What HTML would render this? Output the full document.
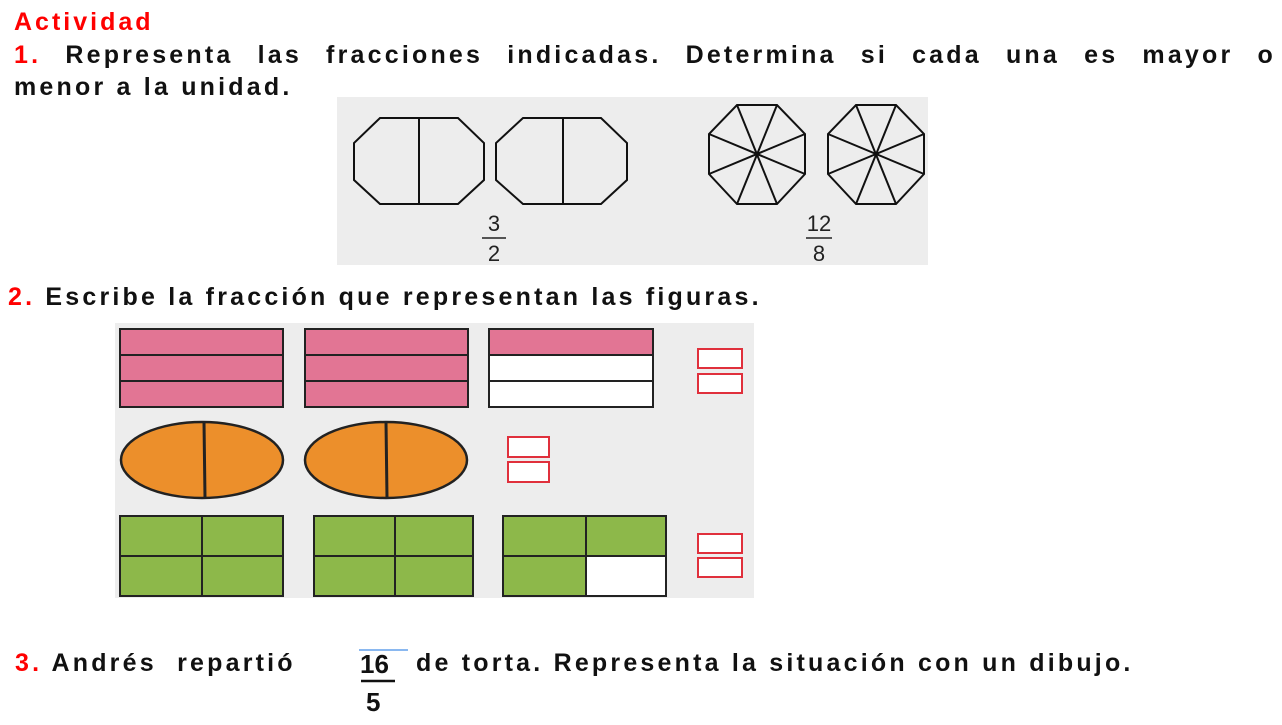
<!DOCTYPE html>
<html><head><meta charset="utf-8"><style>
body{margin:0;width:1282px;height:725px;background:#fff;position:relative;overflow:hidden;font-family:"Liberation Sans",sans-serif;font-weight:bold;color:#111}
.t{position:absolute;white-space:nowrap;font-size:25px;letter-spacing:3.2px}
.r{color:#ff0000}
</style></head><body>
<div class="t r" style="left:14px;top:8px;font-size:25px;letter-spacing:3px">Actividad</div>
<div class="t" style="left:14px;top:41px;width:1262px;text-align:justify;text-align-last:justify"><span class="r">1.</span> Representa las fracciones indicadas. Determina si cada una es mayor o</div>
<div class="t" style="left:14px;top:73px">menor a la unidad.</div>
<div class="t" style="left:8px;top:283px"><span class="r">2.</span> Escribe la fracción que representan las figuras.</div>
<div class="t" style="left:15px;top:649px"><span class="r">3.</span> Andrés&nbsp; repartió</div>
<div class="t" style="left:416px;top:649px">de torta. Representa la situación con un dibujo.</div>
<svg width="1282" height="725" style="position:absolute;left:0;top:0" xmlns="http://www.w3.org/2000/svg">
<rect x="337" y="97" width="591" height="168" fill="#ededed"/>
<g fill="none" stroke="#111" stroke-width="2">
<polygon points="380,118 458,118 484,143 484,180 458,204 380,204 354,180 354,143"/><line x1="419" y1="118" x2="419" y2="204"/>
<polygon points="523,118 601,118 627,143 627,180 601,204 523,204 496,180 496,143"/><line x1="563" y1="118" x2="563" y2="204"/>
<g id="o"><polygon points="737,105 777,105 805,134 805,174 777,204 737,204 709,174 709,134"/>
<line x1="737" y1="105" x2="777" y2="204"/><line x1="777" y1="105" x2="737" y2="204"/><line x1="709" y1="134" x2="805" y2="174"/><line x1="805" y1="134" x2="709" y2="174"/></g>
<use href="#o" x="119"/>
</g>
<g font-family="Liberation Sans Narrow,Liberation Sans,sans-serif" font-weight="normal" font-size="22" fill="#222" text-anchor="middle">
<text x="494" y="231">3</text><line x1="482" y1="238" x2="506" y2="238" stroke="#222" stroke-width="1.5"/><text x="494" y="261">2</text>
<text x="819" y="231">12</text><line x1="806" y1="238" x2="832" y2="238" stroke="#222" stroke-width="1.5"/><text x="819" y="261">8</text>
</g>
<rect x="115" y="323" width="639" height="275" fill="#ededed"/>
<g stroke="#222" stroke-width="2">
<rect x="120" y="329" width="163" height="78" fill="#e27594"/><line x1="120" y1="355" x2="283" y2="355"/><line x1="120" y1="381" x2="283" y2="381"/>
<rect x="305" y="329" width="163" height="78" fill="#e27594"/><line x1="305" y1="355" x2="468" y2="355"/><line x1="305" y1="381" x2="468" y2="381"/>
<rect x="489" y="329" width="164" height="78" fill="#fff"/><rect x="489" y="329" width="164" height="26" fill="#e27594"/><line x1="489" y1="381" x2="653" y2="381"/>
<ellipse cx="202" cy="460" rx="81" ry="38" fill="#ec8f2b" stroke-width="2.5"/><line x1="204" y1="422" x2="205" y2="498" stroke-width="3"/>
<ellipse cx="386" cy="460" rx="81" ry="38" fill="#ec8f2b" stroke-width="2.5"/><line x1="386" y1="422" x2="387" y2="498" stroke-width="3"/>
<rect x="120" y="516" width="163" height="80" fill="#8db84a"/><line x1="202" y1="516" x2="202" y2="596"/><line x1="120" y1="556" x2="283" y2="556"/>
<rect x="314" y="516" width="159" height="80" fill="#8db84a"/><line x1="395" y1="516" x2="395" y2="596"/><line x1="314" y1="556" x2="473" y2="556"/>
<rect x="503" y="516" width="163" height="80" fill="#8db84a"/><rect x="586" y="556" width="80" height="40" fill="#fff"/><line x1="586" y1="516" x2="586" y2="596"/><line x1="503" y1="556" x2="666" y2="556"/>
</g>
<g fill="#fff" stroke="#e0303c" stroke-width="2">
<rect x="698" y="349" width="44" height="19"/><rect x="698" y="374" width="44" height="19"/>
<rect x="508" y="437" width="41" height="20"/><rect x="508" y="462" width="41" height="20"/>
<rect x="698" y="534" width="44" height="19"/><rect x="698" y="558" width="44" height="19"/>
</g>
<line x1="359" y1="650" x2="408" y2="650" stroke="#8ab8f0" stroke-width="2"/>
<g font-family="Liberation Sans,sans-serif" font-weight="bold" font-size="26" fill="#111">
<text x="360" y="673">16</text><line x1="361" y1="681" x2="395" y2="681" stroke="#111" stroke-width="2.5"/><text x="366" y="711">5</text>
</g>
</svg>
</body></html>
